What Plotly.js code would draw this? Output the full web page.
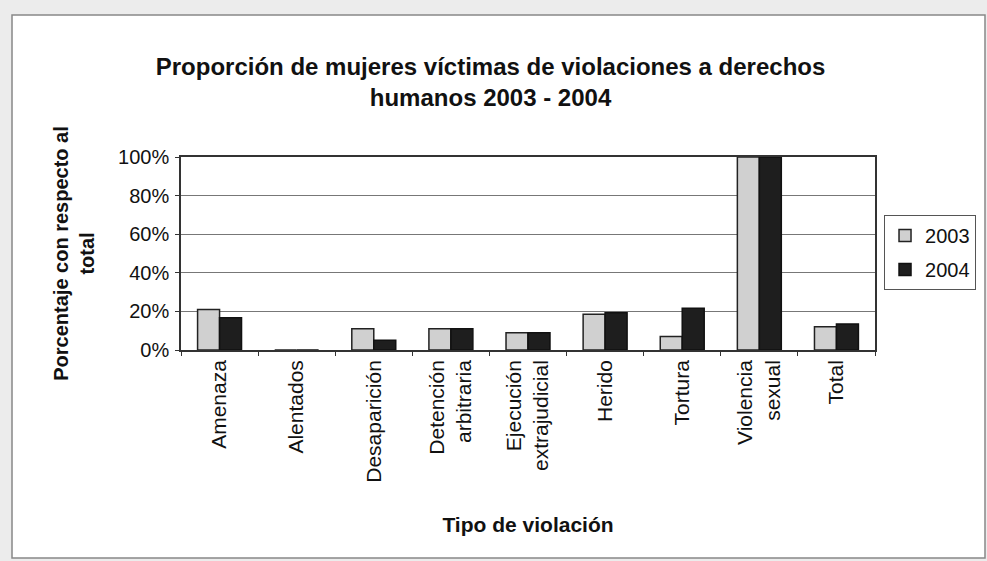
<!DOCTYPE html>
<html><head><meta charset="utf-8">
<script src="https://cdn.plot.ly/plotly-3.0.1.min.js"></script>
<style>body{margin:0;background:#fff}#c{width:987px;height:561px}</style>
</head><body><div id="c"></div>
<script>
const categories = ["Amenaza","Alentados","Desaparición","Detención<br>arbitraria","Ejecución<br>extrajudicial","Herido","Tortura","Violencia<br>sexual","Total"];
const v2003 = [0.21, 0, 0.11, 0.11, 0.09, 0.185, 0.07, 1.0, 0.12];
const v2004 = [0.167, 0, 0.05, 0.11, 0.09, 0.193, 0.216, 1.0, 0.135];
const seriesNames = ["2003","2004"];
const yTicks = [0,0.2,0.4,0.6,0.8,1.0];
const yTickText = ["0%","20%","40%","60%","80%","100%"];

const font = "Liberation Sans, Arial, sans-serif";
const data = [
  {type:"bar", name:seriesNames[0], legendgroup:"a", x:categories, y:v2003,
   marker:{color:"#d0d0d0", line:{color:"#222", width:1.5}}},
  {type:"bar", name:seriesNames[1], legendgroup:"b", x:categories, y:v2004,
   marker:{color:"#1e1e1e", line:{color:"#111", width:1.5}}}
];
const layout = {
  width:987, height:561,
  margin:{l:181, r:112, t:157, b:211, autoexpand:false},
  paper_bgcolor:"#ececec", plot_bgcolor:"rgba(0,0,0,0)",
  font:{family:font, color:"#111", size:18},
  title:{text:"<b>Proporción de mujeres víctimas de violaciones a derechos<br>humanos 2003 - 2004</b>",
         x:0.497, xanchor:"center", y:0.866, yanchor:"middle", font:{size:24, family:font}},
  barmode:"group", bargap:0.43, bargroupgap:0,
  xaxis:{tickangle:-90, tickfont:{size:21}, showline:true, linecolor:"#333", linewidth:1.5,
         mirror:true, ticks:"outside", tickson:"boundaries", ticklen:4, tickcolor:"#333",
         automargin:false,
         title:{text:"<b>Tipo de violación</b>", font:{size:21}, standoff:36}},
  yaxis:{range:[0,1], tickvals:yTicks, ticktext:yTickText, tickfont:{size:20},
         showgrid:true, gridcolor:"#777", gridwidth:1, showline:true, linecolor:"#333", linewidth:1.5,
         mirror:true, ticks:"outside", ticklen:4, tickcolor:"#333", zeroline:false, automargin:false,
         ticklabelstandoff:2,
         title:{text:"<b>Porcentaje con respecto al<br>total</b>", font:{size:20}, standoff:18}},
  legend:{x:1.013, xanchor:"left", y:0.70, yanchor:"top", bordercolor:"#555", borderwidth:1,
          font:{size:20}, bgcolor:"#fff", tracegroupgap:5},
  showlegend:true,
  shapes:[{type:"rect", xref:"paper", yref:"paper", x0:-0.2435, x1:1.1585, y0:-1.078, y1:1.736,
           fillcolor:"#fff", layer:"below", line:{color:"#888", width:1.5}}]
};
Plotly.newPlot("c", data, layout, {displayModeBar:false});
</script></body></html>
